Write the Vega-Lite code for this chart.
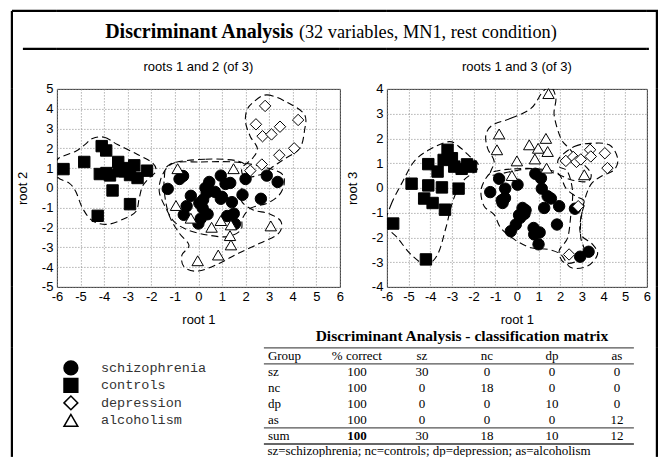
{
  "$schema": "https://vega.github.io/schema/vega-lite/v6.json",
  "background": "white",
  "padding": {"left": 9.9, "top": 8.9, "right": 0, "bottom": 0},
  "columns": 5,
  "align": "each",
  "bounds": "flush",
  "spacing": 0,
  "config": {
    "font": "Liberation Sans",
    "view": {"stroke": null},
    "axis": {"labelFont": "Liberation Sans", "labelFontSize": 13, "labelColor": "black", "titleFont": "Liberation Sans", "titleFontSize": 13, "titleFontWeight": "normal", "titleColor": "black", "domain": false, "ticks": false, "grid": true, "gridColor": "#8a8a8a", "gridDash": [1, 2], "labelOverlap": false, "labelFlush": false, "labelPadding": 4},
    "title": {"font": "Liberation Sans", "fontSize": 13, "fontWeight": "normal", "color": "black", "anchor": "middle"},
    "text": {"color": "black"}
  },
  "datasets": {
    "pts": [
      {"plot":"A","group":"controls","x":-5.72,"y":0.95},{"plot":"A","group":"controls","x":-4.84,"y":1.31},{"plot":"A","group":"controls","x":-4.10,"y":2.11},{"plot":"A","group":"controls","x":-3.91,"y":1.89},{"plot":"A","group":"controls","x":-4.18,"y":0.70},{"plot":"A","group":"controls","x":-3.75,"y":0.63},{"plot":"A","group":"controls","x":-3.40,"y":1.31},{"plot":"A","group":"controls","x":-3.36,"y":0.84},{"plot":"A","group":"controls","x":-3.12,"y":0.84},{"plot":"A","group":"controls","x":-2.72,"y":1.14},{"plot":"A","group":"controls","x":-2.58,"y":0.50},{"plot":"A","group":"controls","x":-2.18,"y":0.87},{"plot":"A","group":"controls","x":-3.64,"y":-0.13},{"plot":"A","group":"controls","x":-2.90,"y":-0.82},{"plot":"A","group":"controls","x":-4.27,"y":-1.41},{"plot":"A","group":"controls","x":-3.90,"y":0.75},{"plot":"A","group":"controls","x":-3.00,"y":1.00},{"plot":"A","group":"controls","x":-2.90,"y":0.65},
      {"plot":"A","group":"schizophrenia","x":-1.30,"y":-0.05},{"plot":"A","group":"schizophrenia","x":-0.80,"y":0.45},{"plot":"A","group":"schizophrenia","x":-0.65,"y":0.60},{"plot":"A","group":"schizophrenia","x":-0.32,"y":-0.40},{"plot":"A","group":"schizophrenia","x":-0.50,"y":-0.92},{"plot":"A","group":"schizophrenia","x":-0.62,"y":-1.36},{"plot":"A","group":"schizophrenia","x":0.04,"y":-0.77},{"plot":"A","group":"schizophrenia","x":0.18,"y":-1.02},{"plot":"A","group":"schizophrenia","x":0.39,"y":-1.33},{"plot":"A","group":"schizophrenia","x":0.10,"y":-1.55},{"plot":"A","group":"schizophrenia","x":0.00,"y":-1.80},{"plot":"A","group":"schizophrenia","x":0.30,"y":0.00},{"plot":"A","group":"schizophrenia","x":0.46,"y":0.30},{"plot":"A","group":"schizophrenia","x":0.35,"y":-0.26},{"plot":"A","group":"schizophrenia","x":0.95,"y":0.62},{"plot":"A","group":"schizophrenia","x":1.15,"y":0.20},{"plot":"A","group":"schizophrenia","x":1.35,"y":0.25},{"plot":"A","group":"schizophrenia","x":0.95,"y":-0.55},{"plot":"A","group":"schizophrenia","x":1.00,"y":-0.45},{"plot":"A","group":"schizophrenia","x":1.42,"y":-0.72},{"plot":"A","group":"schizophrenia","x":1.22,"y":-1.42},{"plot":"A","group":"schizophrenia","x":1.55,"y":-1.82},{"plot":"A","group":"schizophrenia","x":1.87,"y":-0.35},{"plot":"A","group":"schizophrenia","x":2.00,"y":0.45},{"plot":"A","group":"schizophrenia","x":2.65,"y":-0.55},{"plot":"A","group":"schizophrenia","x":2.90,"y":0.62},{"plot":"A","group":"schizophrenia","x":3.36,"y":0.30},{"plot":"A","group":"schizophrenia","x":0.70,"y":-0.20},{"plot":"A","group":"schizophrenia","x":0.20,"y":-0.60},{"plot":"A","group":"schizophrenia","x":1.50,"y":-1.30},
      {"plot":"A","group":"depression","x":2.83,"y":4.14},{"plot":"A","group":"depression","x":4.23,"y":3.43},{"plot":"A","group":"depression","x":2.44,"y":3.21},{"plot":"A","group":"depression","x":2.72,"y":2.61},{"plot":"A","group":"depression","x":3.10,"y":2.70},{"plot":"A","group":"depression","x":3.46,"y":3.09},{"plot":"A","group":"depression","x":4.06,"y":2.00},{"plot":"A","group":"depression","x":3.43,"y":1.65},{"plot":"A","group":"depression","x":2.69,"y":1.18},{"plot":"A","group":"depression","x":2.20,"y":0.87},
      {"plot":"A","group":"alcoholism","x":-0.88,"y":0.97},{"plot":"A","group":"alcoholism","x":1.49,"y":0.97},{"plot":"A","group":"alcoholism","x":-0.95,"y":-0.89},{"plot":"A","group":"alcoholism","x":-0.32,"y":-1.53},{"plot":"A","group":"alcoholism","x":0.56,"y":-1.99},{"plot":"A","group":"alcoholism","x":0.95,"y":-1.65},{"plot":"A","group":"alcoholism","x":1.38,"y":-1.87},{"plot":"A","group":"alcoholism","x":1.34,"y":-2.41},{"plot":"A","group":"alcoholism","x":1.38,"y":-2.88},{"plot":"A","group":"alcoholism","x":0.84,"y":-3.39},{"plot":"A","group":"alcoholism","x":-0.03,"y":-3.68},{"plot":"A","group":"alcoholism","x":3.07,"y":-1.92},
      {"plot":"B","group":"controls","x":-3.20,"y":1.54},{"plot":"B","group":"controls","x":-4.09,"y":0.96},{"plot":"B","group":"controls","x":-3.66,"y":0.66},{"plot":"B","group":"controls","x":-3.38,"y":1.13},{"plot":"B","group":"controls","x":-2.89,"y":0.86},{"plot":"B","group":"controls","x":-2.55,"y":0.77},{"plot":"B","group":"controls","x":-2.12,"y":0.86},{"plot":"B","group":"controls","x":-4.86,"y":0.17},{"plot":"B","group":"controls","x":-4.09,"y":0.10},{"plot":"B","group":"controls","x":-3.46,"y":0.02},{"plot":"B","group":"controls","x":-2.69,"y":-0.03},{"plot":"B","group":"controls","x":-4.28,"y":-0.43},{"plot":"B","group":"controls","x":-3.89,"y":-0.61},{"plot":"B","group":"controls","x":-3.32,"y":-0.88},{"plot":"B","group":"controls","x":-5.71,"y":-1.44},{"plot":"B","group":"controls","x":-4.20,"y":-2.89},{"plot":"B","group":"controls","x":-3.00,"y":1.20},{"plot":"B","group":"controls","x":-2.30,"y":0.95},
      {"plot":"B","group":"schizophrenia","x":-1.23,"y":-0.17},{"plot":"B","group":"schizophrenia","x":-0.82,"y":0.37},{"plot":"B","group":"schizophrenia","x":-0.54,"y":-0.03},{"plot":"B","group":"schizophrenia","x":-0.55,"y":-0.41},{"plot":"B","group":"schizophrenia","x":-0.66,"y":-0.61},{"plot":"B","group":"schizophrenia","x":0.03,"y":0.13},{"plot":"B","group":"schizophrenia","x":0.26,"y":-0.81},{"plot":"B","group":"schizophrenia","x":0.23,"y":-1.01},{"plot":"B","group":"schizophrenia","x":0.15,"y":-1.21},{"plot":"B","group":"schizophrenia","x":-0.05,"y":-1.48},{"plot":"B","group":"schizophrenia","x":-0.28,"y":-1.75},{"plot":"B","group":"schizophrenia","x":0.85,"y":0.57},{"plot":"B","group":"schizophrenia","x":1.11,"y":0.39},{"plot":"B","group":"schizophrenia","x":1.15,"y":-0.03},{"plot":"B","group":"schizophrenia","x":1.42,"y":-0.34},{"plot":"B","group":"schizophrenia","x":1.57,"y":-0.43},{"plot":"B","group":"schizophrenia","x":1.26,"y":-0.81},{"plot":"B","group":"schizophrenia","x":1.95,"y":-0.74},{"plot":"B","group":"schizophrenia","x":0.77,"y":-1.62},{"plot":"B","group":"schizophrenia","x":0.80,"y":-1.88},{"plot":"B","group":"schizophrenia","x":1.00,"y":-2.28},{"plot":"B","group":"schizophrenia","x":1.85,"y":-1.48},{"plot":"B","group":"schizophrenia","x":2.68,"y":-0.84},{"plot":"B","group":"schizophrenia","x":2.92,"y":-2.78},{"plot":"B","group":"schizophrenia","x":3.31,"y":-2.58},{"plot":"B","group":"schizophrenia","x":0.40,"y":-0.90},{"plot":"B","group":"schizophrenia","x":0.10,"y":-1.10},{"plot":"B","group":"schizophrenia","x":1.05,"y":-1.80},{"plot":"B","group":"schizophrenia","x":-0.70,"y":-0.50},{"plot":"B","group":"schizophrenia","x":0.35,"y":-1.05},
      {"plot":"B","group":"alcoholism","x":1.46,"y":3.81},{"plot":"B","group":"alcoholism","x":-0.82,"y":2.18},{"plot":"B","group":"alcoholism","x":-0.92,"y":1.54},{"plot":"B","group":"alcoholism","x":0.57,"y":1.74},{"plot":"B","group":"alcoholism","x":0.98,"y":1.60},{"plot":"B","group":"alcoholism","x":1.34,"y":2.00},{"plot":"B","group":"alcoholism","x":1.42,"y":1.47},{"plot":"B","group":"alcoholism","x":0.83,"y":1.17},{"plot":"B","group":"alcoholism","x":0.00,"y":1.09},{"plot":"B","group":"alcoholism","x":-0.23,"y":0.50},{"plot":"B","group":"alcoholism","x":1.37,"y":0.80},{"plot":"B","group":"alcoholism","x":3.11,"y":0.53},
      {"plot":"B","group":"depression","x":2.26,"y":1.09},{"plot":"B","group":"depression","x":2.60,"y":1.25},{"plot":"B","group":"depression","x":2.75,"y":1.05},{"plot":"B","group":"depression","x":3.38,"y":1.54},{"plot":"B","group":"depression","x":3.41,"y":1.27},{"plot":"B","group":"depression","x":4.06,"y":1.40},{"plot":"B","group":"depression","x":4.18,"y":0.80},{"plot":"B","group":"depression","x":2.83,"y":-0.74},{"plot":"B","group":"depression","x":2.41,"y":-2.69},{"plot":"B","group":"depression","x":2.95,"y":1.15}
    ],
    "hulls": [
      {"plot":"A","group":"controls","i":1,"x":-4.49,"y":2.50},{"plot":"A","group":"controls","i":2,"x":-3.99,"y":2.56},{"plot":"A","group":"controls","i":3,"x":-3.43,"y":2.19},{"plot":"A","group":"controls","i":4,"x":-2.58,"y":1.69},{"plot":"A","group":"controls","i":5,"x":-1.94,"y":1.26},{"plot":"A","group":"controls","i":6,"x":-1.80,"y":0.84},{"plot":"A","group":"controls","i":7,"x":-2.09,"y":0.50},{"plot":"A","group":"controls","i":8,"x":-2.37,"y":0.08},{"plot":"A","group":"controls","i":9,"x":-2.51,"y":-0.52},{"plot":"A","group":"controls","i":10,"x":-2.65,"y":-1.19},{"plot":"A","group":"controls","i":11,"x":-3.15,"y":-1.56},{"plot":"A","group":"controls","i":12,"x":-3.85,"y":-1.84},{"plot":"A","group":"controls","i":13,"x":-4.49,"y":-1.66},{"plot":"A","group":"controls","i":14,"x":-4.91,"y":-1.03},{"plot":"A","group":"controls","i":15,"x":-5.20,"y":-0.18},{"plot":"A","group":"controls","i":16,"x":-5.48,"y":0.24},{"plot":"A","group":"controls","i":17,"x":-5.96,"y":0.53},{"plot":"A","group":"controls","i":18,"x":-6.10,"y":1.09},{"plot":"A","group":"controls","i":19,"x":-5.92,"y":1.50},{"plot":"A","group":"controls","i":20,"x":-5.20,"y":1.85},{"plot":"A","group":"controls","i":21,"x":-4.80,"y":2.20},
      {"plot":"A","group":"schizophrenia","i":1,"x":-1.03,"y":1.26},{"plot":"A","group":"schizophrenia","i":2,"x":0.11,"y":1.31},{"plot":"A","group":"schizophrenia","i":3,"x":1.52,"y":1.31},{"plot":"A","group":"schizophrenia","i":4,"x":2.65,"y":1.09},{"plot":"A","group":"schizophrenia","i":5,"x":3.50,"y":0.75},{"plot":"A","group":"schizophrenia","i":6,"x":3.64,"y":0.24},{"plot":"A","group":"schizophrenia","i":7,"x":3.43,"y":-0.35},{"plot":"A","group":"schizophrenia","i":8,"x":2.93,"y":-0.77},{"plot":"A","group":"schizophrenia","i":9,"x":2.23,"y":-1.02},{"plot":"A","group":"schizophrenia","i":10,"x":1.87,"y":-1.53},{"plot":"A","group":"schizophrenia","i":11,"x":1.80,"y":-2.12},{"plot":"A","group":"schizophrenia","i":12,"x":1.24,"y":-2.46},{"plot":"A","group":"schizophrenia","i":13,"x":0.39,"y":-2.38},{"plot":"A","group":"schizophrenia","i":14,"x":-0.46,"y":-2.12},{"plot":"A","group":"schizophrenia","i":15,"x":-1.03,"y":-1.70},{"plot":"A","group":"schizophrenia","i":16,"x":-1.38,"y":-1.02},{"plot":"A","group":"schizophrenia","i":17,"x":-1.66,"y":-0.18},{"plot":"A","group":"schizophrenia","i":18,"x":-1.52,"y":0.67},
      {"plot":"A","group":"alcoholism","i":1,"x":-1.20,"y":1.20},{"plot":"A","group":"alcoholism","i":2,"x":0.30,"y":1.45},{"plot":"A","group":"alcoholism","i":3,"x":1.70,"y":1.35},{"plot":"A","group":"alcoholism","i":4,"x":2.10,"y":0.90},{"plot":"A","group":"alcoholism","i":5,"x":1.90,"y":0.20},{"plot":"A","group":"alcoholism","i":6,"x":1.80,"y":-0.60},{"plot":"A","group":"alcoholism","i":7,"x":2.30,"y":-1.10},{"plot":"A","group":"alcoholism","i":8,"x":3.00,"y":-1.30},{"plot":"A","group":"alcoholism","i":9,"x":3.50,"y":-1.70},{"plot":"A","group":"alcoholism","i":10,"x":3.40,"y":-2.30},{"plot":"A","group":"alcoholism","i":11,"x":2.60,"y":-2.80},{"plot":"A","group":"alcoholism","i":12,"x":1.70,"y":-3.30},{"plot":"A","group":"alcoholism","i":13,"x":0.90,"y":-3.80},{"plot":"A","group":"alcoholism","i":14,"x":0.00,"y":-4.20},{"plot":"A","group":"alcoholism","i":15,"x":-0.60,"y":-4.00},{"plot":"A","group":"alcoholism","i":16,"x":-0.70,"y":-3.40},{"plot":"A","group":"alcoholism","i":17,"x":-0.40,"y":-2.90},{"plot":"A","group":"alcoholism","i":18,"x":-0.80,"y":-2.30},{"plot":"A","group":"alcoholism","i":19,"x":-1.20,"y":-1.50},{"plot":"A","group":"alcoholism","i":20,"x":-1.40,"y":-0.60},{"plot":"A","group":"alcoholism","i":21,"x":-1.45,"y":0.40},
      {"plot":"A","group":"depression","i":1,"x":2.30,"y":4.30},{"plot":"A","group":"depression","i":2,"x":2.90,"y":4.70},{"plot":"A","group":"depression","i":3,"x":3.80,"y":4.30},{"plot":"A","group":"depression","i":4,"x":4.50,"y":3.70},{"plot":"A","group":"depression","i":5,"x":4.50,"y":2.90},{"plot":"A","group":"depression","i":6,"x":4.30,"y":2.00},{"plot":"A","group":"depression","i":7,"x":3.70,"y":1.50},{"plot":"A","group":"depression","i":8,"x":3.20,"y":1.10},{"plot":"A","group":"depression","i":9,"x":2.70,"y":0.70},{"plot":"A","group":"depression","i":10,"x":2.00,"y":0.55},{"plot":"A","group":"depression","i":11,"x":1.85,"y":1.00},{"plot":"A","group":"depression","i":12,"x":2.30,"y":1.50},{"plot":"A","group":"depression","i":13,"x":2.50,"y":2.00},{"plot":"A","group":"depression","i":14,"x":2.20,"y":2.60},{"plot":"A","group":"depression","i":15,"x":2.00,"y":3.30},{"plot":"A","group":"depression","i":16,"x":2.05,"y":3.90},
      {"plot":"B","group":"controls","i":1,"x":-6.05,"y":-1.48},{"plot":"B","group":"controls","i":2,"x":-5.81,"y":-0.68},{"plot":"B","group":"controls","i":3,"x":-5.27,"y":0.26},{"plot":"B","group":"controls","i":4,"x":-4.74,"y":1.07},{"plot":"B","group":"controls","i":5,"x":-4.05,"y":1.54},{"plot":"B","group":"controls","i":6,"x":-3.12,"y":1.87},{"plot":"B","group":"controls","i":7,"x":-2.58,"y":1.60},{"plot":"B","group":"controls","i":8,"x":-2.12,"y":1.23},{"plot":"B","group":"controls","i":9,"x":-1.81,"y":1.00},{"plot":"B","group":"controls","i":10,"x":-1.85,"y":0.73},{"plot":"B","group":"controls","i":11,"x":-2.43,"y":0.33},{"plot":"B","group":"controls","i":12,"x":-2.81,"y":-0.21},{"plot":"B","group":"controls","i":13,"x":-3.05,"y":-0.81},{"plot":"B","group":"controls","i":14,"x":-3.28,"y":-1.62},{"plot":"B","group":"controls","i":15,"x":-3.66,"y":-2.69},{"plot":"B","group":"controls","i":16,"x":-4.20,"y":-3.09},{"plot":"B","group":"controls","i":17,"x":-4.89,"y":-2.69},{"plot":"B","group":"controls","i":18,"x":-5.51,"y":-2.02},
      {"plot":"B","group":"schizophrenia","i":1,"x":-1.05,"y":0.66},{"plot":"B","group":"schizophrenia","i":2,"x":-0.12,"y":0.77},{"plot":"B","group":"schizophrenia","i":3,"x":0.95,"y":0.77},{"plot":"B","group":"schizophrenia","i":4,"x":1.88,"y":0.60},{"plot":"B","group":"schizophrenia","i":5,"x":2.26,"y":-0.01},{"plot":"B","group":"schizophrenia","i":6,"x":2.72,"y":-0.34},{"plot":"B","group":"schizophrenia","i":7,"x":3.11,"y":-0.54},{"plot":"B","group":"schizophrenia","i":8,"x":2.95,"y":-1.21},{"plot":"B","group":"schizophrenia","i":9,"x":2.95,"y":-1.88},{"plot":"B","group":"schizophrenia","i":10,"x":3.49,"y":-2.28},{"plot":"B","group":"schizophrenia","i":11,"x":3.72,"y":-2.69},{"plot":"B","group":"schizophrenia","i":12,"x":3.26,"y":-3.16},{"plot":"B","group":"schizophrenia","i":13,"x":2.49,"y":-3.22},{"plot":"B","group":"schizophrenia","i":14,"x":2.03,"y":-2.69},{"plot":"B","group":"schizophrenia","i":15,"x":1.42,"y":-2.48},{"plot":"B","group":"schizophrenia","i":16,"x":0.65,"y":-2.42},{"plot":"B","group":"schizophrenia","i":17,"x":-0.12,"y":-2.08},{"plot":"B","group":"schizophrenia","i":18,"x":-0.74,"y":-1.62},{"plot":"B","group":"schizophrenia","i":19,"x":-1.05,"y":-1.08},{"plot":"B","group":"schizophrenia","i":20,"x":-1.51,"y":-0.74},{"plot":"B","group":"schizophrenia","i":21,"x":-1.66,"y":-0.14},{"plot":"B","group":"schizophrenia","i":22,"x":-1.43,"y":0.39},
      {"plot":"B","group":"alcoholism","i":1,"x":-1.12,"y":2.54},{"plot":"B","group":"alcoholism","i":2,"x":-0.28,"y":2.81},{"plot":"B","group":"alcoholism","i":3,"x":0.65,"y":3.21},{"plot":"B","group":"alcoholism","i":4,"x":1.19,"y":3.88},{"plot":"B","group":"alcoholism","i":5,"x":1.57,"y":4.08},{"plot":"B","group":"alcoholism","i":6,"x":1.80,"y":3.61},{"plot":"B","group":"alcoholism","i":7,"x":1.72,"y":2.94},{"plot":"B","group":"alcoholism","i":8,"x":2.03,"y":2.00},{"plot":"B","group":"alcoholism","i":9,"x":2.41,"y":1.60},{"plot":"B","group":"alcoholism","i":10,"x":2.95,"y":1.07},{"plot":"B","group":"alcoholism","i":11,"x":3.41,"y":0.60},{"plot":"B","group":"alcoholism","i":12,"x":3.26,"y":0.26},{"plot":"B","group":"alcoholism","i":13,"x":2.49,"y":0.33},{"plot":"B","group":"alcoholism","i":14,"x":1.72,"y":0.60},{"plot":"B","group":"alcoholism","i":15,"x":0.65,"y":0.77},{"plot":"B","group":"alcoholism","i":16,"x":-0.28,"y":0.66},{"plot":"B","group":"alcoholism","i":17,"x":-1.20,"y":0.53},{"plot":"B","group":"alcoholism","i":18,"x":-1.05,"y":1.07},{"plot":"B","group":"alcoholism","i":19,"x":-1.35,"y":1.60},{"plot":"B","group":"alcoholism","i":20,"x":-1.43,"y":2.14},
      {"plot":"B","group":"depression","i":1,"x":1.95,"y":1.20},{"plot":"B","group":"depression","i":2,"x":2.65,"y":1.67},{"plot":"B","group":"depression","i":3,"x":3.41,"y":1.80},{"plot":"B","group":"depression","i":4,"x":4.26,"y":1.74},{"plot":"B","group":"depression","i":5,"x":4.65,"y":1.20},{"plot":"B","group":"depression","i":6,"x":4.49,"y":0.73},{"plot":"B","group":"depression","i":7,"x":3.88,"y":0.46},{"plot":"B","group":"depression","i":8,"x":3.41,"y":0.13},{"plot":"B","group":"depression","i":9,"x":3.11,"y":-0.54},{"plot":"B","group":"depression","i":10,"x":2.95,"y":-1.35},{"plot":"B","group":"depression","i":11,"x":2.95,"y":-2.02},{"plot":"B","group":"depression","i":12,"x":3.11,"y":-2.55},{"plot":"B","group":"depression","i":13,"x":2.80,"y":-2.95},{"plot":"B","group":"depression","i":14,"x":2.18,"y":-3.02},{"plot":"B","group":"depression","i":15,"x":1.95,"y":-2.55},{"plot":"B","group":"depression","i":16,"x":2.34,"y":-2.02},{"plot":"B","group":"depression","i":17,"x":2.49,"y":-1.08},{"plot":"B","group":"depression","i":18,"x":2.57,"y":-0.14},{"plot":"B","group":"depression","i":19,"x":2.34,"y":0.66},{"plot":"B","group":"depression","i":20,"x":1.95,"y":0.86}
    ],
    "legend": [{"group":"schizophrenia"},{"group":"controls"},{"group":"depression"},{"group":"alcoholism"}],
    "table": [
      {"r":"Group","c":"Group","v":"Group"},{"r":"Group","c":"% correct","v":"% correct"},{"r":"Group","c":"sz","v":"sz"},{"r":"Group","c":"nc","v":"nc"},{"r":"Group","c":"dp","v":"dp"},{"r":"Group","c":"as","v":"as"},
      {"r":"sz","c":"Group","v":"sz"},{"r":"sz","c":"% correct","v":"100"},{"r":"sz","c":"sz","v":"30"},{"r":"sz","c":"nc","v":"0"},{"r":"sz","c":"dp","v":"0"},{"r":"sz","c":"as","v":"0"},
      {"r":"nc","c":"Group","v":"nc"},{"r":"nc","c":"% correct","v":"100"},{"r":"nc","c":"sz","v":"0"},{"r":"nc","c":"nc","v":"18"},{"r":"nc","c":"dp","v":"0"},{"r":"nc","c":"as","v":"0"},
      {"r":"dp","c":"Group","v":"dp"},{"r":"dp","c":"% correct","v":"100"},{"r":"dp","c":"sz","v":"0"},{"r":"dp","c":"nc","v":"0"},{"r":"dp","c":"dp","v":"10"},{"r":"dp","c":"as","v":"0"},
      {"r":"as","c":"Group","v":"as"},{"r":"as","c":"% correct","v":"100"},{"r":"as","c":"sz","v":"0"},{"r":"as","c":"nc","v":"0"},{"r":"as","c":"dp","v":"0"},{"r":"as","c":"as","v":"12"},
      {"r":"sum","c":"Group","v":"sum"},{"r":"sum","c":"% correct","v":"100"},{"r":"sum","c":"sz","v":"30"},{"r":"sum","c":"nc","v":"18"},{"r":"sum","c":"dp","v":"10"},{"r":"sum","c":"as","v":"12"}
    ]
  },
  "concat": [
    {"width": 45, "height": 38, "data": {"values": []}, "mark": "point", "encoding": {}, "view": {"stroke": "black", "strokeWidth": 2.2, "strokeDash": [45, 38, 34, 11, 38, 0]}},
    {
      "width": 283, "height": 38,
      "view": {"stroke": "black", "strokeWidth": 2.2, "strokeDash": [283, 38, 283, 38]},
      "layer": [
        {"data": {"values": [{"t": "Discriminant Analysis"}]}, "mark": {"type": "text", "align": "right", "baseline": "alphabetic", "dx": 95, "dy": 8, "font": "Liberation Serif", "fontSize": 20, "fontWeight": "bold"}, "encoding": {"text": {"field": "t"}}},
        {"data": {"values": [{"t": "(32 variables, MN1, rest condition)"}]}, "mark": {"type": "text", "align": "left", "baseline": "alphabetic", "dx": 100.5, "dy": 8, "font": "Liberation Serif", "fontSize": 18.3, "fontWeight": "normal"}, "encoding": {"text": {"field": "t"}}}
      ]
    },
    {"width": 47, "height": 38, "data": {"values": []}, "mark": "point", "encoding": {}, "view": {"stroke": "black", "strokeWidth": 2.2, "strokeDash": [47, 38, 47, 38]}},
    {"width": 260, "height": 38, "data": {"values": []}, "mark": "point", "encoding": {}, "view": {"stroke": "black", "strokeWidth": 2.2, "strokeDash": [260, 38, 260, 38]}},
    {"width": 10, "height": 38, "data": {"values": []}, "mark": "point", "encoding": {}, "view": {"stroke": "black", "strokeWidth": 2.2, "strokeDash": [48, 8, 2, 38]}},

    {"width": 45, "height": 40, "data": {"values": []}, "mark": "point", "encoding": {}, "view": {"stroke": "black", "strokeWidth": 2.2, "strokeDash": [0, 130, 40, 0]}},
    {"width": 1, "height": 1, "data": {"values": []}, "mark": "point", "encoding": {}},
    {"width": 1, "height": 1, "data": {"values": []}, "mark": "point", "encoding": {}},
    {"width": 1, "height": 1, "data": {"values": []}, "mark": "point", "encoding": {}},
    {"width": 10, "height": 40, "data": {"values": []}, "mark": "point", "encoding": {}, "view": {"stroke": "black", "strokeWidth": 2.2, "strokeDash": [0, 10, 40, 50]}},

    {"width": 45, "height": 198, "data": {"values": []}, "mark": "point", "encoding": {}, "view": {"stroke": "black", "strokeWidth": 2.2, "strokeDash": [0, 288, 198, 0]}},
    {
      "width": 283, "height": 198,
      "title": {"text": "roots 1 and 2 (of 3)", "offset": 9},
      "view": {"stroke": "#333", "strokeWidth": 1},
      "layer": [
        {
          "data": {"name": "hulls"},
          "transform": [{"filter": "datum.plot == 'A'"}],
          "mark": {"type": "line", "interpolate": "cardinal-closed", "strokeDash": [7, 4], "color": "black", "strokeWidth": 1.1, "clip": true},
          "encoding": {
            "x": {"field": "x", "type": "quantitative", "scale": {"domain": [-6, 6], "nice": false, "zero": false}, "axis": {"values": [-6,-5,-4,-3,-2,-1,0,1,2,3,4,5,6], "tickCount": 30, "labelExpr": "'' + datum.value", "labelOverlap": false, "labelFlush": false, "title": "root 1", "titlePadding": 10}},
            "y": {"field": "y", "type": "quantitative", "scale": {"domain": [-5, 5], "nice": false, "zero": false}, "axis": {"values": [-5,-4,-3,-2,-1,0,1,2,3,4,5], "tickCount": 30, "labelExpr": "'' + datum.value", "labelOverlap": false, "labelFlush": false, "title": "root 2", "titlePadding": 12}},
            "detail": {"field": "group"},
            "order": {"field": "i", "type": "quantitative"}
          }
        },
        {
          "data": {"name": "pts"},
          "transform": [{"filter": "datum.plot == 'A'"}],
          "mark": {"type": "point", "filled": true, "opacity": 1, "stroke": "black", "strokeWidth": 1, "size": 130},
          "encoding": {
            "x": {"field": "x", "type": "quantitative"},
            "y": {"field": "y", "type": "quantitative"},
            "shape": {"field": "group", "type": "nominal", "scale": {"domain": ["schizophrenia", "controls", "depression", "alcoholism"], "range": ["circle", "square", "diamond", "triangle-up"]}, "legend": null},
            "fill": {"field": "group", "type": "nominal", "scale": {"domain": ["schizophrenia", "controls", "depression", "alcoholism"], "range": ["black", "black", "white", "white"]}, "legend": null}
          }
        }
      ]
    },
    {"width": 1, "height": 1, "data": {"values": []}, "mark": "point", "encoding": {}},
    {
      "width": 260, "height": 198,
      "title": {"text": "roots 1 and 3 (of 3)", "offset": 9},
      "view": {"stroke": "#333", "strokeWidth": 1},
      "layer": [
        {
          "data": {"name": "hulls"},
          "transform": [{"filter": "datum.plot == 'B'"}],
          "mark": {"type": "line", "interpolate": "cardinal-closed", "strokeDash": [7, 4], "color": "black", "strokeWidth": 1.1, "clip": true},
          "encoding": {
            "x": {"field": "x", "type": "quantitative", "scale": {"domain": [-6, 6], "nice": false, "zero": false}, "axis": {"values": [-6,-5,-4,-3,-2,-1,0,1,2,3,4,5,6], "tickCount": 30, "labelExpr": "'' + datum.value", "labelOverlap": false, "labelFlush": false, "title": "root 1", "titlePadding": 10}},
            "y": {"field": "y", "type": "quantitative", "scale": {"domain": [-4, 4], "nice": false, "zero": false}, "axis": {"values": [-4,-3,-2,-1,0,1,2,3,4], "tickCount": 30, "labelExpr": "'' + datum.value", "labelOverlap": false, "labelFlush": false, "title": "root 3", "titlePadding": 12}},
            "detail": {"field": "group"},
            "order": {"field": "i", "type": "quantitative"}
          }
        },
        {
          "data": {"name": "pts"},
          "transform": [{"filter": "datum.plot == 'B'"}],
          "mark": {"type": "point", "filled": true, "opacity": 1, "stroke": "black", "strokeWidth": 1, "size": 130},
          "encoding": {
            "x": {"field": "x", "type": "quantitative"},
            "y": {"field": "y", "type": "quantitative"},
            "shape": {"field": "group", "type": "nominal", "scale": {"domain": ["schizophrenia", "controls", "depression", "alcoholism"], "range": ["circle", "square", "diamond", "triangle-up"]}, "legend": null},
            "fill": {"field": "group", "type": "nominal", "scale": {"domain": ["schizophrenia", "controls", "depression", "alcoholism"], "range": ["black", "black", "white", "white"]}, "legend": null}
          }
        }
      ]
    },
    {"width": 10, "height": 198, "data": {"values": []}, "mark": "point", "encoding": {}, "view": {"stroke": "black", "strokeWidth": 2.2, "strokeDash": [0, 10, 198, 208]}},

    {"width": 45, "height": 61, "data": {"values": []}, "mark": "point", "encoding": {}, "view": {"stroke": "black", "strokeWidth": 2.2, "strokeDash": [0, 151, 61, 0]}},
    {"width": 1, "height": 1, "data": {"values": []}, "mark": "point", "encoding": {}},
    {"width": 1, "height": 1, "data": {"values": []}, "mark": "point", "encoding": {}},
    {"width": 1, "height": 1, "data": {"values": []}, "mark": "point", "encoding": {}},
    {"width": 10, "height": 61, "data": {"values": []}, "mark": "point", "encoding": {}, "view": {"stroke": "black", "strokeWidth": 2.2, "strokeDash": [0, 10, 61, 71]}},

    {"width": 45, "height": 109, "data": {"values": []}, "mark": "point", "encoding": {}, "view": {"stroke": "black", "strokeWidth": 2.2, "strokeDash": [0, 199, 109, 0]}},
    {
      "bounds": "flush",
      "spacing": 179,
      "hconcat": [
        {
          "width": 28, "height": 101,
          "data": {"name": "legend"},
          "layer": [
            {
              "mark": {"type": "point", "filled": true, "opacity": 1, "stroke": "black", "strokeWidth": 1.5, "size": 190},
              "encoding": {
                "y": {"field": "group", "type": "nominal", "scale": {"type": "point", "domain": ["schizophrenia", "controls", "depression", "alcoholism"], "range": [20, 72.5], "padding": 0}, "axis": null},
                "shape": {"field": "group", "type": "nominal", "scale": {"domain": ["schizophrenia", "controls", "depression", "alcoholism"], "range": ["circle", "square", "diamond", "triangle-up"]}, "legend": null},
                "fill": {"field": "group", "type": "nominal", "scale": {"domain": ["schizophrenia", "controls", "depression", "alcoholism"], "range": ["black", "black", "white", "white"]}, "legend": null}
              }
            },
            {
              "mark": {"type": "text", "align": "left", "dx": 30, "font": "Liberation Mono", "fontSize": 13.5, "color": "#333"},
              "encoding": {
                "y": {"field": "group", "type": "nominal", "axis": null},
                "text": {"field": "group"}
              }
            }
          ]
        },
        {
          "width": 370, "height": 96,
          "title": {"text": "Discriminant Analysis - classification matrix", "font": "Liberation Serif", "fontSize": 15.5, "fontWeight": "bold", "offset": 3, "dx": 13},
          "layer": [
            {
              "data": {"values": [{"r": "Group"}, {"r": "sz"}, {"r": "sum"}]},
              "mark": {"type": "rule", "color": "#555", "strokeWidth": 1.2},
              "encoding": {"y": {"field": "r", "type": "nominal", "bandPosition": 0, "scale": {"type": "band", "domain": ["Group", "sz", "nc", "dp", "as", "sum"], "paddingInner": 0, "paddingOuter": 0}, "axis": null}}
            },
            {
              "data": {"values": [{"r": "sum"}]},
              "mark": {"type": "rule", "color": "#666", "strokeWidth": 2},
              "encoding": {"y": {"field": "r", "type": "nominal", "bandPosition": 1, "axis": null}}
            },
            {
              "data": {"name": "table"},
              "transform": [{"filter": "datum.c == 'Group'"}],
              "mark": {"type": "text", "align": "left", "dx": -24, "font": "Liberation Serif", "fontSize": 13},
              "encoding": {
                "x": {"field": "c", "type": "nominal", "scale": {"type": "point", "domain": ["Group", "% correct", "sz", "nc", "dp", "as"], "range": [28, 353], "padding": 0}, "axis": {"labels": false, "ticks": false, "domain": false, "grid": false, "title": "sz=schizophrenia; nc=controls; dp=depression; as=alcoholism", "titleFont": "Liberation Serif", "titleFontSize": 13, "titleFontWeight": "normal", "titleAnchor": "start", "titleAlign": "left", "titleX": 3, "titlePadding": 1}},
                "y": {"field": "r", "type": "nominal"},
                "text": {"field": "v"}
              }
            },
            {
              "data": {"name": "table"},
              "transform": [{"filter": "datum.c != 'Group' && !(datum.r == 'sum' && datum.c == '% correct')"}],
              "mark": {"type": "text", "align": "center", "font": "Liberation Serif", "fontSize": 13},
              "encoding": {
                "x": {"field": "c", "type": "nominal"},
                "y": {"field": "r", "type": "nominal"},
                "text": {"field": "v"}
              }
            },
            {
              "data": {"name": "table"},
              "transform": [{"filter": "datum.r == 'sum' && datum.c == '% correct'"}],
              "mark": {"type": "text", "align": "center", "font": "Liberation Serif", "fontSize": 13, "fontWeight": "bold"},
              "encoding": {
                "x": {"field": "c", "type": "nominal"},
                "y": {"field": "r", "type": "nominal"},
                "text": {"field": "v"}
              }
            }
          ]
        }
      ]
    },
    {"width": 1, "height": 1, "data": {"values": []}, "mark": "point", "encoding": {}},
    {"width": 1, "height": 1, "data": {"values": []}, "mark": "point", "encoding": {}},
    {"width": 10, "height": 109, "data": {"values": []}, "mark": "point", "encoding": {}, "view": {"stroke": "black", "strokeWidth": 2.2, "strokeDash": [0, 10, 109, 119]}}
  ]
}
